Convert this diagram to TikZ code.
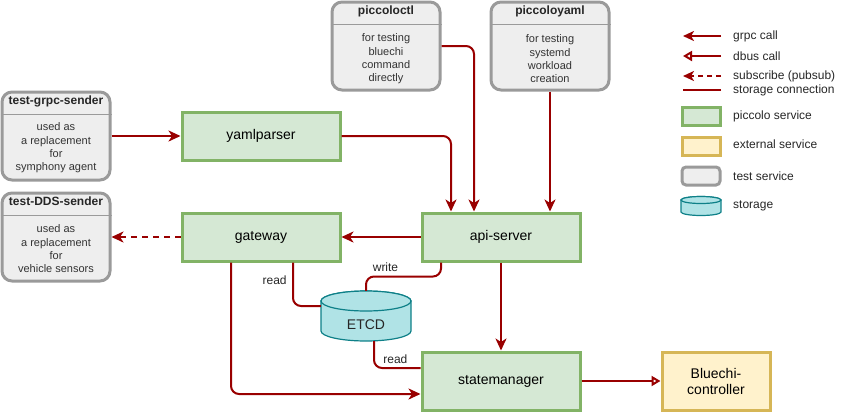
\documentclass[tikz,border=0pt]{standalone}
\usepackage{fontspec}
\setmainfont{Liberation Sans}
\usetikzlibrary{arrows.meta, positioning}
\definecolor{linkred}{HTML}{990000}
\definecolor{pgreen}{HTML}{82B366}
\definecolor{pgreenfill}{HTML}{D5E8D4}
\definecolor{extline}{HTML}{D6B656}
\definecolor{extfill}{HTML}{FFF2CC}
\definecolor{testline}{HTML}{9A9A9A}
\definecolor{testfill}{HTML}{EEEEEE}
\definecolor{storline}{HTML}{0E8088}
\definecolor{storfill}{HTML}{B0E3E6}

\begin{document}
\begin{tikzpicture}[
    x=1pt, y=-1pt,
    piccolo/.style={draw=pgreen, fill=pgreenfill, line width=3pt, minimum width=158, minimum height=48, font=\fontsize{14}{16}\selectfont},
    external/.style={draw=extline, fill=extfill, line width=3pt, minimum width=108, minimum height=58, align=center, font=\fontsize{14}{16}\selectfont},
    testbox/.style={draw=testline, fill=testfill, line width=3pt, rounded corners=10pt, minimum width=108, minimum height=88},
    testtitle/.style={font=\fontsize{12}{14}\selectfont\bfseries, text=black!85, inner sep=0pt},
    testbody/.style={align=center, font=\fontsize{11}{13.3}\selectfont, text=black!80, inner sep=0pt},
    testsep/.style={draw=testline, line width=1pt},
    lbl/.style={font=\fontsize{12}{14}\selectfont, text=black!85},
    legend/.style={font=\fontsize{12}{14}\selectfont, text=black!85, anchor=west, inner sep=0pt},
    cyl/.style={draw=storline, fill=storfill, line width=1.2pt},
    grpc/.style={draw=linkred, line width=2pt, rounded corners=8pt, -{Stealth[length=12pt, width=11pt, inset=3.5pt]}},
    dbus/.style={draw=linkred, line width=2pt, rounded corners=8pt, -{Triangle[open, length=9pt, width=10pt]}},
    subscribe/.style={draw=linkred, line width=2pt, dash pattern=on 6pt off 5pt, -{Stealth[length=12pt, width=11pt, inset=3.5pt]}},
    storage/.style={draw=linkred, line width=2pt, rounded corners=8pt}
]
\useasboundingbox (0,0) rectangle (860,413);

% test services
\node[testbox] (grpcsender) at (56,136) {};
\node[testtitle, below=5pt of grpcsender.north] {test-grpc-sender};
\draw[testsep] ([yshift=-24]grpcsender.north west) -- ([yshift=-24]grpcsender.north east);
\node[testbody] at ([yshift=-12]grpcsender.center) {used as\\a replacement\\for\\symphony agent};

\node[testbox] (ddssender) at (56,237) {};
\node[testtitle, below=5pt of ddssender.north] {test-DDS-sender};
\draw[testsep] ([yshift=-24]ddssender.north west) -- ([yshift=-24]ddssender.north east);
\node[testbody] at ([yshift=-12]ddssender.center) {used as\\a replacement\\for\\vehicle sensors};

\node[testbox] (piccoloctl) at (386,46) {};
\node[testtitle, below=5pt of piccoloctl.north] {piccoloctl};
\draw[testsep] ([yshift=-24]piccoloctl.north west) -- ([yshift=-24]piccoloctl.north east);
\node[testbody] at ([yshift=-13]piccoloctl.center) {for testing\\bluechi\\command\\directly};

\node[testbox, minimum width=118] (piccoloyaml) at (550,46) {};
\node[testtitle, below=5pt of piccoloyaml.north] {piccoloyaml};
\draw[testsep] ([yshift=-24]piccoloyaml.north west) -- ([yshift=-24]piccoloyaml.north east);
\node[testbody] at ([yshift=-13]piccoloyaml.center) {for testing\\systemd\\workload\\creation};

% piccolo services
\node[piccolo] (yamlparser) at (261,136) {yamlparser};
\node[piccolo] (gateway) at (261,237) {gateway};
\node[piccolo] (apiserver) at (501,237) {api-server};
\node[piccolo, minimum height=58] (statemanager) at (501,381) {statemanager};
\node[external] (bluechi) at (716,381) {Bluechi-\\controller};

% storage
\node[minimum width=90, minimum height=50, inner sep=0pt] (etcd) at (366,316) {};
\path[cyl] (321,301) -- (321,331) arc[start angle=180, end angle=360, x radius=45pt, y radius=10pt] -- (411,301) arc[start angle=0, end angle=180, x radius=45pt, y radius=10pt] -- cycle;
\draw[cyl] (366,301) ellipse[x radius=45pt, y radius=10pt];
\node[font=\fontsize{14}{16}\selectfont, text=black!85] at ([yshift=-9]etcd.center) {ETCD};

% connections
\draw[grpc] (grpcsender) -- (yamlparser);
\draw[grpc] (yamlparser.east) -| ([xshift=-50]apiserver.north);
\draw[grpc] (piccoloctl.east) -| ([xshift=-27]apiserver.north);
\draw[grpc] (piccoloyaml.south) -- (piccoloyaml.south |- apiserver.north);
\draw[grpc] (apiserver) -- (gateway);
\draw[subscribe] (gateway) -- (ddssender);
\draw[grpc] (apiserver) -- (statemanager);
\draw[grpc] ([xshift=-30]gateway.south) |- ([yshift=-13]statemanager.west);
\draw[dbus] (statemanager) -- (bluechi);
\draw[storage] ([xshift=-60]apiserver.south) -- ++(0,14) -| node[lbl, pos=0.37, above=1pt] {write} (etcd.north);
\draw[storage] ([xshift=32]gateway.south) |- node[lbl, pos=0.2, left=2pt] {read} ([yshift=10]etcd.west);
\draw[storage] ([xshift=8]etcd.south) |- node[lbl, pos=0.73, above=0pt] {read} ([yshift=13]statemanager.west);

% legend
\coordinate (lg1a) at (721,36); \coordinate (lg1b) at (683,36);
\coordinate (lg2a) at (721,56); \coordinate (lg2b) at (683,56);
\coordinate (lg3a) at (721,76); \coordinate (lg3b) at (683,76);
\coordinate (lg4a) at (721,90); \coordinate (lg4b) at (683,90);
\draw[grpc, -{Stealth[length=11pt, width=10pt, inset=3pt]}] (lg1a) -- (lg1b);
\draw[dbus] (lg2a) -- (lg2b);
\draw[subscribe, dash pattern=on 5pt off 4pt, -{Stealth[length=11pt, width=10pt, inset=3pt]}] (lg3a) -- (lg3b);
\draw[storage] (lg4a) -- (lg4b);
\node[legend] at (733,36) {grpc call};
\node[legend] at (733,56) {dbus call};
\node[legend] at (733,76) {subscribe (pubsub)};
\node[legend] at (733,90) {storage connection};
\node[piccolo, minimum width=38, minimum height=18] (lgpiccolo) at (701,116) {};
\node[legend] at (733,116) {piccolo service};
\node[external, minimum width=38, minimum height=18] (lgexternal) at (701,146) {};
\node[legend] at (733,144) {external service};
\node[testbox, minimum width=38, minimum height=18, rounded corners=4pt] (lgtest) at (701,176) {};
\node[legend] at (733,176) {test service};
\path[cyl] (681,200) -- (681,212) arc[start angle=180, end angle=360, x radius=20pt, y radius=3.5pt] -- (721,200) arc[start angle=0, end angle=180, x radius=20pt, y radius=3.5pt] -- cycle;
\draw[cyl] (701,200) ellipse[x radius=20pt, y radius=3.5pt];
\node[legend] at (733,206) {storage};
\end{tikzpicture}
\end{document}
